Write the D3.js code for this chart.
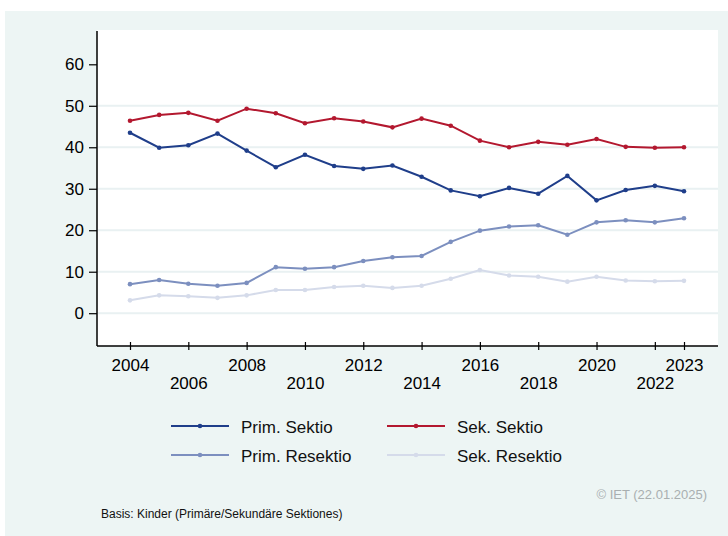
<!DOCTYPE html>
<html lang="de">
  <head>
    <meta charset="utf-8" />
    <style>
      body { margin: 0; background: #ffffff; }
      svg { display: block; font-family: "Liberation Sans", Arial, sans-serif; }
    </style>
  </head>
  <body>
    <script src="https://d3js.org/d3.v7.min.js"></script>
    <script>
      var width = 728,
        height = 536;

      // data
      var years = d3.range(2004, 2024);
      var primSektio = [43.5, 39.9, 40.5, 43.3, 39.2, 35.2, 38.2, 35.5, 34.8, 35.6,
                        32.9, 29.6, 28.2, 30.2, 28.8, 33.1, 27.2, 29.7, 30.7, 29.4];
      var sekSektio = [46.4, 47.8, 48.3, 46.4, 49.3, 48.2, 45.8, 47.0, 46.2, 44.8,
                       46.9, 45.2, 41.6, 40.0, 41.3, 40.6, 42.0, 40.1, 39.9, 40.0];
      var primResektio = [7.0, 8.0, 7.1, 6.6, 7.3, 11.1, 10.7, 11.1, 12.6, 13.5,
                          13.8, 17.2, 19.9, 20.9, 21.2, 18.9, 21.9, 22.4, 21.9, 22.9];
      var sekResektio = [3.1, 4.3, 4.1, 3.7, 4.3, 5.6, 5.6, 6.3, 6.6, 6.1,
                         6.6, 8.3, 10.4, 9.1, 8.8, 7.6, 8.8, 7.9, 7.7, 7.8];
      var xTicks = [2004, 2006, 2008, 2010, 2012, 2014, 2016, 2018, 2020, 2022, 2023];
      var yTicks = [0, 10, 20, 30, 40, 50, 60];
      var gridTicks = [0, 10, 20, 30, 40, 50];

      var series = [
        { name: "Prim. Sektio", values: primSektio, color: "#1f3e8a" },
        { name: "Sek. Sektio", values: sekSektio, color: "#b3182f" },
        { name: "Prim. Resektio", values: primResektio, color: "#7c8fbf" },
        { name: "Sek. Resektio", values: sekResektio, color: "#d5dbea" }
      ];

      var svg = d3.select("body")
        .append("svg")
        .attr("width", width)
        .attr("height", height);

      // mint panel
      svg.append("rect")
        .attr("x", 5).attr("y", 11)
        .attr("width", width - 5).attr("height", height - 11)
        .attr("fill", "#edf5f4");

      var plot = { left: 97, right: 718, top: 30, bottom: 346 };

      svg.append("rect")
        .attr("x", plot.left).attr("y", plot.top)
        .attr("width", plot.right - plot.left)
        .attr("height", plot.bottom - plot.top)
        .attr("fill", "#ffffff");

      var x = d3.scaleLinear().domain([2004, 2023]).range([130, 684]);
      var y = d3.scaleLinear().domain([0, 60]).range([313.2, 64.3]);

      // gridlines
      svg.append("g")
        .selectAll("line")
        .data(gridTicks)
        .join("line")
        .attr("x1", plot.left + 1)
        .attr("x2", plot.right)
        .attr("y1", function (d) { return y(d); })
        .attr("y2", function (d) { return y(d); })
        .attr("stroke", "#e9f1f2")
        .attr("stroke-width", 2);

      // y axis
      var yAxis = svg.append("g")
        .attr("transform", "translate(" + plot.left + ",0)")
        .call(d3.axisLeft(y).tickValues(yTicks).tickSize(8).tickPadding(5));
      yAxis.select(".domain").remove();
      yAxis.selectAll(".tick line").attr("stroke", "#000").attr("stroke-width", 1.2);
      yAxis.selectAll("text").attr("font-size", 17).attr("fill", "#000")
        .attr("font-family", "Liberation Sans, Arial, sans-serif");
      svg.append("line")
        .attr("x1", plot.left).attr("x2", plot.left)
        .attr("y1", plot.top + 1).attr("y2", plot.bottom)
        .attr("stroke", "#000").attr("stroke-width", 1.5);

      // x axis
      var xAxis = svg.append("g")
        .attr("transform", "translate(0," + plot.bottom + ")")
        .call(d3.axisBottom(x).tickValues(xTicks).tickSize(4).tickFormat(d3.format("d")));
      xAxis.select(".domain").remove();
      xAxis.selectAll(".tick line")
        .attr("y1", -4).attr("y2", 4)
        .attr("stroke", "#000").attr("stroke-width", 1.2);
      xAxis.selectAll("text")
        .attr("font-size", 17).attr("fill", "#000")
        .attr("font-family", "Liberation Sans, Arial, sans-serif")
        .attr("dy", null)
        .attr("y", function (d, i) { return i % 2 === 0 ? 25 : 43; });
      svg.append("line")
        .attr("x1", plot.left).attr("x2", plot.right)
        .attr("y1", plot.bottom).attr("y2", plot.bottom)
        .attr("stroke", "#000").attr("stroke-width", 1.5);

      // lines and markers (light ones first)
      var line = d3.line()
        .x(function (d, i) { return x(years[i]); })
        .y(function (d) { return y(d); });

      var drawOrder = series.slice().reverse();
      drawOrder.forEach(function (s) {
        svg.append("path")
          .datum(s.values)
          .attr("d", line)
          .attr("fill", "none")
          .attr("stroke", s.color)
          .attr("stroke-width", 2);
        svg.append("g")
          .selectAll("circle")
          .data(s.values)
          .join("circle")
          .attr("cx", function (d, i) { return x(years[i]); })
          .attr("cy", function (d) { return y(d); })
          .attr("r", 2.3)
          .attr("fill", s.color);
      });

      // legend
      var legendPos = [
        { lx: 171, ty: 426 },
        { lx: 387, ty: 426 },
        { lx: 171, ty: 455 },
        { lx: 387, ty: 455 }
      ];
      var legend = svg.append("g")
        .selectAll("g")
        .data(series)
        .join("g")
        .attr("transform", function (d, i) {
          return "translate(" + legendPos[i].lx + "," + legendPos[i].ty + ")";
        });
      legend.append("line")
        .attr("x1", 0).attr("x2", 58)
        .attr("stroke", function (d) { return d.color; })
        .attr("stroke-width", 2);
      legend.append("circle")
        .attr("cx", 29).attr("r", 2.3)
        .attr("fill", function (d) { return d.color; });
      legend.append("text")
        .attr("x", 70).attr("y", 6.5)
        .attr("font-size", 17)
        .attr("fill", "#111")
        .text(function (d) { return d.name; });

      // notes
      svg.append("text")
        .attr("x", 707).attr("y", 499)
        .attr("text-anchor", "end")
        .attr("font-size", 13)
        .attr("fill", "#a9afb0")
        .text("© IET (22.01.2025)");
      svg.append("text")
        .attr("x", 101).attr("y", 518)
        .attr("font-size", 12)
        .attr("fill", "#111")
        .text("Basis: Kinder (Primäre/Sekundäre Sektiones)");
    </script>
  </body>
</html>
